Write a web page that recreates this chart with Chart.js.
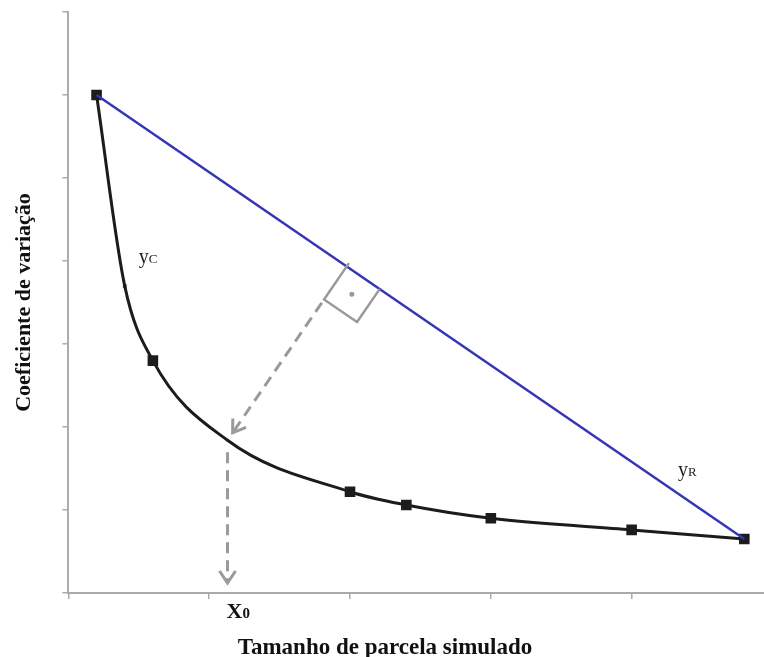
<!DOCTYPE html>
<html>
<head>
<meta charset="utf-8">
<script src="https://cdn.jsdelivr.net/npm/chart.js@4/dist/chart.umd.min.js"></script>
<style>
    html, body { margin: 0; padding: 0; background: #fff; }
</style>
</head>
<body>
<canvas id="cvChart" width="764" height="657"></canvas>
<script>
// simulated plot sizes (square markers) and their coefficient of variation
const plotSize = [0.2, 0.6, 2.0, 2.4, 3.0, 4.0, 4.8];
const plotCV = [6.0, 2.8, 1.22, 1.06, 0.9, 0.76, 0.65];
// small dot on the curve
const dotSize = [0.4];
const dotCV = [3.7];
// optimum point x0 on the curve
const x0Size = 1.13;
const x0CV = 1.84;

const xMax = 4.94;
const yMax = 7;

const axisGray = '#ababab';
const arrowGray = '#9a9a9a';
const serif = "'Liberation Serif', 'Times New Roman', serif";

function toPoints(xs, ys) {
    return xs.map((v, i) => ({x: v, y: ys[i]}));
}

// curve passes through all points in order of size
const curvePoints = toPoints(plotSize, plotCV)
    .concat(toPoints(dotSize, dotCV))
    .concat([{x: x0Size, y: x0CV}])
    .sort((a, b) => a.x - b.x);

const linePoints = [
    {x: plotSize[0], y: plotCV[0]},
    {x: plotSize[plotSize.length - 1], y: plotCV[plotCV.length - 1]}
];

function vArrow(ctx, tip, dir, len, half) {
    const n = {x: -dir.y, y: dir.x};
    ctx.beginPath();
    ctx.moveTo(tip.x - dir.x * len + n.x * half, tip.y - dir.y * len + n.y * half);
    ctx.lineTo(tip.x, tip.y);
    ctx.lineTo(tip.x - dir.x * len - n.x * half, tip.y - dir.y * len - n.y * half);
    ctx.stroke();
}

const annotations = {
    id: 'annotations',
    afterDatasetsDraw(chart) {
        const {ctx, scales: {x, y}} = chart;
        const a = {x: x.getPixelForValue(linePoints[0].x), y: y.getPixelForValue(linePoints[0].y)};
        const b = {x: x.getPixelForValue(linePoints[1].x), y: y.getPixelForValue(linePoints[1].y)};
        const p = {x: x.getPixelForValue(x0Size), y: y.getPixelForValue(x0CV)};

        const len = Math.hypot(b.x - a.x, b.y - a.y);
        const d = {x: (b.x - a.x) / len, y: (b.y - a.y) / len};
        const u = {x: -d.y, y: d.x};
        const t = (p.x - a.x) * d.x + (p.y - a.y) * d.y;
        const f = {x: a.x + t * d.x, y: a.y + t * d.y};
        const s = 40;

        ctx.save();
        ctx.strokeStyle = arrowGray;
        ctx.fillStyle = arrowGray;
        ctx.lineWidth = 2.5;
        ctx.lineCap = 'butt';

        // right angle box
        ctx.beginPath();
        ctx.moveTo(f.x - u.x * 4, f.y - u.y * 4);
        ctx.lineTo(f.x + u.x * s, f.y + u.y * s);
        ctx.lineTo(f.x + u.x * s + d.x * s, f.y + u.y * s + d.y * s);
        ctx.lineTo(f.x + d.x * s, f.y + d.y * s);
        ctx.stroke();
        ctx.beginPath();
        ctx.arc(f.x + (u.x + d.x) * s / 2, f.y + (u.y + d.y) * s / 2, 2.5, 0, Math.PI * 2);
        ctx.fill();

        // perpendicular arrow towards x0
        const tip = {x: p.x - u.x * 9, y: p.y - u.y * 9};
        ctx.lineWidth = 3;
        ctx.setLineDash([11, 7]);
        ctx.beginPath();
        ctx.moveTo(f.x + u.x * (s + 4), f.y + u.y * (s + 4));
        ctx.lineTo(tip.x, tip.y);
        ctx.stroke();
        ctx.setLineDash([]);
        vArrow(ctx, tip, u, 12, 8);

        // vertical arrow down to the axis
        const bottom = {x: p.x, y: y.getPixelForValue(0) - 10};
        ctx.setLineDash([11, 7]);
        ctx.beginPath();
        ctx.moveTo(p.x, p.y + 12);
        ctx.lineTo(bottom.x, bottom.y);
        ctx.stroke();
        ctx.setLineDash([]);
        vArrow(ctx, bottom, {x: 0, y: 1}, 12, 8);

        // labels
        ctx.fillStyle = '#222';
        ctx.textBaseline = 'alphabetic';
        ctx.textAlign = 'left';
        const lab = (main, sub, px, py) => {
            ctx.font = '20px ' + serif;
            ctx.fillText(main, px, py);
            const w = ctx.measureText(main).width;
            ctx.font = '13px ' + serif;
            ctx.fillText(sub, px + w, py);
        };
        lab('y', 'C', x.getPixelForValue(0.5), y.getPixelForValue(3.98));
        lab('y', 'R', x.getPixelForValue(4.33), y.getPixelForValue(1.41));

        ctx.fillStyle = '#111';
        ctx.font = 'bold 22px ' + serif;
        ctx.fillText('X', p.x - 1, y.getPixelForValue(0) + 25);
        const xw = ctx.measureText('X').width;
        ctx.font = 'bold 15px ' + serif;
        ctx.fillText('0', p.x - 1 + xw, y.getPixelForValue(0) + 25);

        ctx.font = 'bold 23px ' + serif;
        ctx.textAlign = 'center';
        ctx.fillText('Tamanho de parcela simulado', 385, 654);
        ctx.restore();
    }
};

const ctx = document.getElementById('cvChart').getContext('2d');
new Chart(ctx, {
    type: 'scatter',
    data: {
        datasets: [
            {
                label: 'yC',
                type: 'line',
                data: curvePoints,
                borderColor: '#1c1c1c',
                borderWidth: 3,
                pointRadius: 0,
                cubicInterpolationMode: 'monotone',
                fill: false,
                order: 3
            },
            {
                label: 'dot',
                data: toPoints(dotSize, dotCV),
                pointStyle: 'rect',
                pointRadius: 2.5,
                backgroundColor: '#1c1c1c',
                borderWidth: 0,
                order: 2
            },
            {
                label: 'plots',
                data: toPoints(plotSize, plotCV),
                pointStyle: 'rect',
                pointRadius: 7.5,
                backgroundColor: '#1c1c1c',
                borderWidth: 0,
                order: 2
            },
            {
                label: 'yR',
                type: 'line',
                data: linePoints,
                borderColor: '#3535b5',
                borderWidth: 2.5,
                pointRadius: 0,
                fill: false,
                order: 1
            }
        ]
    },
    options: {
        responsive: false,
        animation: false,
        layout: {autoPadding: false, padding: {left: 0, right: 0, top: 12, bottom: 58}},
        plugins: {
            legend: {display: false},
            tooltip: {enabled: false}
        },
        scales: {
            x: {
                type: 'linear',
                min: 0,
                max: xMax,
                ticks: {display: false, stepSize: 1, includeBounds: false},
                grid: {drawOnChartArea: false, drawTicks: true, tickLength: 6, color: axisGray, lineWidth: 1.5},
                border: {display: true, color: axisGray, width: 2}
            },
            y: {
                min: 0,
                max: yMax,
                ticks: {display: false, stepSize: 1},
                grid: {drawOnChartArea: false, drawTicks: true, tickLength: 6, color: axisGray, lineWidth: 1.5},
                border: {display: true, color: axisGray, width: 2},
                title: {
                    display: true,
                    text: 'Coeficiente de variação',
                    color: '#111',
                    font: {family: serif, size: 22, weight: 'bold'},
                    padding: {top: 11, bottom: 25}
                }
            }
        }
    },
    plugins: [annotations]
});
</script>
</body>
</html>
